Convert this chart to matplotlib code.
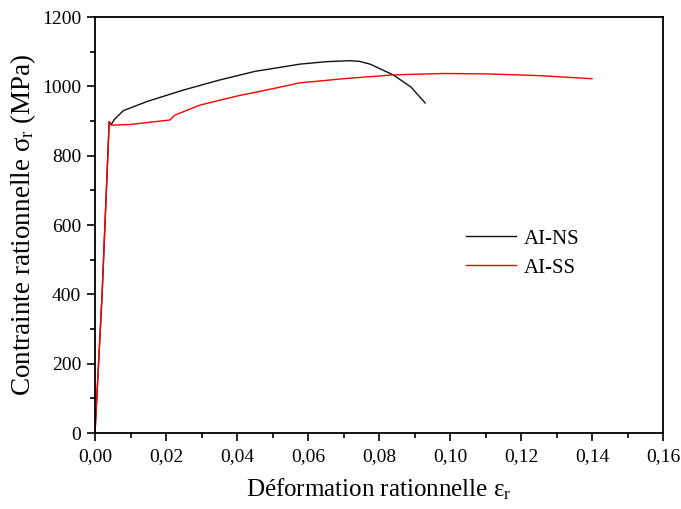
import matplotlib
matplotlib.use("Agg")
import matplotlib.pyplot as plt
from matplotlib.ticker import MultipleLocator, FuncFormatter

plt.rcParams['font.family'] = ['Liberation Serif', 'DejaVu Serif']
plt.rcParams['mathtext.fontset'] = 'custom'
plt.rcParams['mathtext.rm'] = 'Liberation Serif'
plt.rcParams['mathtext.it'] = 'Liberation Serif:italic'

# Data
eps_ns = [0, 0.002, 0.0040, 0.0046, 0.0055, 0.008, 0.0146, 0.0248, 0.035, 0.045,
          0.0577, 0.065, 0.0718, 0.0745, 0.0775, 0.084, 0.089, 0.093]
sig_ns = [0, 400, 898, 890, 905, 930, 956, 989, 1018, 1043,
          1064, 1071, 1074, 1072, 1064, 1033, 998, 952]

eps_ss = [0, 0.002, 0.0040, 0.0046, 0.010, 0.0211, 0.0225, 0.0296, 0.04, 0.05,
          0.0577, 0.07, 0.084, 0.098, 0.11, 0.125, 0.14]
sig_ss = [0, 400, 898, 888, 890, 903, 917, 946, 972, 993,
          1010, 1022, 1033, 1037, 1036, 1031, 1022]

labels = ['AI-NS', 'AI-SS']

fig = plt.figure(figsize=(6.81, 5.09), dpi=100)
ax = fig.add_axes([0.1395, 0.1493, 0.8341, 0.8173])

ax.plot(eps_ns, sig_ns, color='#111111', lw=1.0, label=labels[0])
ax.plot(eps_ss, sig_ss, color='red', lw=1.0, label=labels[1])

ax.set_xlim(0, 0.16)
ax.set_ylim(0, 1200)
ax.xaxis.set_major_locator(MultipleLocator(0.02))
ax.xaxis.set_minor_locator(MultipleLocator(0.01))
ax.yaxis.set_major_locator(MultipleLocator(200))
ax.yaxis.set_minor_locator(MultipleLocator(100))
ax.xaxis.set_major_formatter(FuncFormatter(lambda v, p: f"{v:.2f}".replace('.', ',')))
ax.yaxis.set_major_formatter(FuncFormatter(lambda v, p: f"{int(round(v))}"))

ax.tick_params(which='both', direction='out', top=False, right=False, labelsize=14, width=1.2)
ax.tick_params(which='major', length=6, pad=4)
ax.tick_params(axis='x', which='major', pad=5)
ax.tick_params(which='minor', length=3.5)
for s in ax.spines.values():
    s.set_linewidth(1.3)

ax.set_xlabel("Déformation rationnelle ε$_\\mathrm{r}$", fontsize=18, labelpad=8)
ax.set_ylabel("Contrainte rationnelle σ$_\\mathrm{r}$ (MPa)", fontsize=19.5, labelpad=3)

ax.legend(loc='upper left', bbox_to_anchor=(0.62, 0.535), frameon=False, fontsize=15,
          handlelength=2.4, handletextpad=0.4, labelspacing=0.45)

fig.savefig("out.png", dpi=100)
